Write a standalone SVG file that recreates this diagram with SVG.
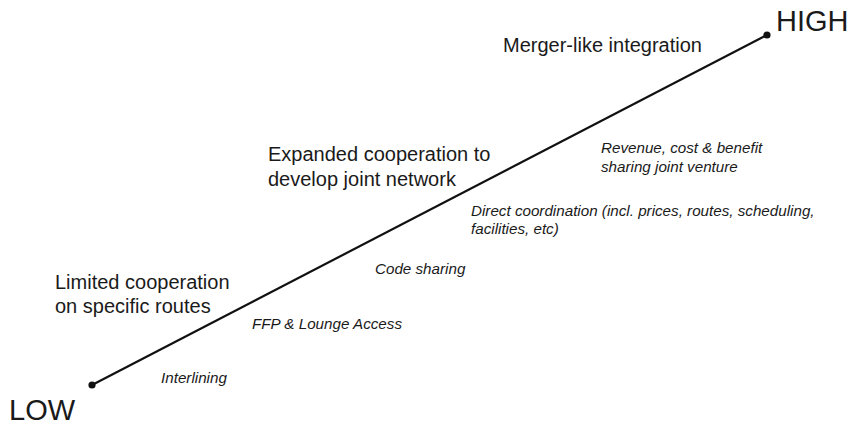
<svg xmlns="http://www.w3.org/2000/svg" width="854" height="426" viewBox="0 0 854 426">
<style>
text{font-family:"Liberation Sans",Arial,sans-serif;fill:#1a1a1a}
.big{font-size:29px}
.head{font-size:20px}
.it{font-size:15.2px;font-style:italic}
</style>
<rect width="854" height="426" fill="#fff"/>
<g id="connectors">
<line x1="92" y1="385" x2="767" y2="35" stroke="#111" stroke-width="2.2"/>
</g>
<g id="low"><circle cx="92" cy="385" r="3.6" fill="#111"/><text class="big" x="9" y="420">LOW</text></g>
<g id="high"><circle cx="767" cy="35" r="3.6" fill="#111"/><text class="big" x="776" y="31">HIGH</text></g>
<g id="merger"><text class="head" x="503" y="52">Merger-like integration</text></g>
<g id="expanded"><text class="head" x="268" y="161">Expanded cooperation to</text><text class="head" x="268" y="186">develop joint network</text></g>
<g id="limited"><text class="head" x="55" y="289">Limited cooperation</text><text class="head" x="55" y="313">on specific routes</text></g>
<g id="revenue"><text class="it" x="601" y="153">Revenue, cost &amp; benefit</text><text class="it" x="601" y="172">sharing joint venture</text></g>
<g id="direct"><text class="it" x="471" y="216">Direct coordination (incl. prices, routes, scheduling,</text><text class="it" x="471" y="234">facilities, etc)</text></g>
<g id="codeshare"><text class="it" x="375" y="274">Code sharing</text></g>
<g id="ffp"><text class="it" x="252" y="329">FFP &amp; Lounge Access</text></g>
<g id="interlining"><text class="it" x="161" y="383">Interlining</text></g>
</svg>
